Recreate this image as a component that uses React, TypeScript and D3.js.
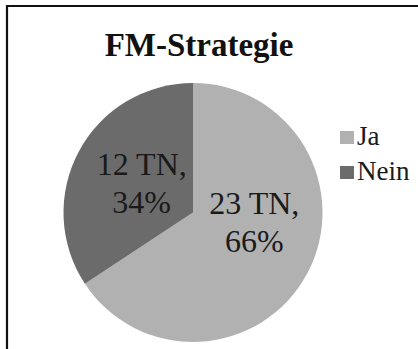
import React from "react";
import * as d3 from "d3";

const categories = ["Ja", "Nein"];
const counts = [23, 12];
const percents = [66, 34];
const title = "FM-Strategie";

const W = 418;
const H = 349;
const colors = ["#b1b1b1", "#6b6b6b"];
const serif = "'Liberation Serif', 'Times New Roman', serif";

export default function App() {
  const cx = 193;
  const cy = 212.5;
  const r = 129.5;

  const pie = d3
    .pie<number>()
    .sort(null)
    .value((d) => d)
    .startAngle(0)
    .endAngle(2 * Math.PI);
  const arcs = pie(counts);
  const arc = d3.arc<d3.PieArcDatum<number>>().innerRadius(0).outerRadius(r);
  const labelArc = d3
    .arc<d3.PieArcDatum<number>>()
    .innerRadius(r * 0.9)
    .outerRadius(r * 0.0);
  // small nudges for label blocks, like the spreadsheet's own placement
  const labelShift = [
    [10, -18],
    [0, -2],
  ];

  const legendX = 340;
  const legendY = 130;
  const legendStep = 35;

  return (
    <svg
      width={W}
      height={H}
      style={{ position: "absolute", left: 0, top: 0, background: "#fff" }}
    >
      <path d={`M7,${H} V6 H${W}`} fill="none" stroke="#111" strokeWidth={2.2} />
      <text
        x={199}
        y={56}
        textAnchor="middle"
        fontFamily={serif}
        fontWeight="bold"
        fontSize={33}
        fill="#111"
      >
        {title}
      </text>
      <g transform={`translate(${cx},${cy})`}>
        {arcs.map((a, i) => (
          <path key={categories[i]} d={arc(a) ?? ""} fill={colors[i]} />
        ))}
        {arcs.map((a, i) => {
          const [lx, ly] = labelArc.centroid(a);
          const x = lx + labelShift[i][0];
          const y = ly + labelShift[i][1];
          return (
            <text
              key={"l" + i}
              textAnchor="middle"
              fontFamily={serif}
              fontSize={32}
              fill="#1a1a1a"
            >
              <tspan x={x} y={y - 8}>{`${counts[i]} TN,`}</tspan>
              <tspan x={x} y={y + 30}>{`${percents[i]}%`}</tspan>
            </text>
          );
        })}
      </g>
      {categories.map((c, i) => (
        <g key={c} transform={`translate(${legendX},${legendY + i * legendStep})`}>
          <rect x={0} y={1} width={14} height={13} fill={colors[i]} />
          <text
            x={17}
            y={15}
            fontFamily={serif}
            fontSize={27}
            fill="#1a1a1a"
          >
            {c}
          </text>
        </g>
      ))}
    </svg>
  );
}
